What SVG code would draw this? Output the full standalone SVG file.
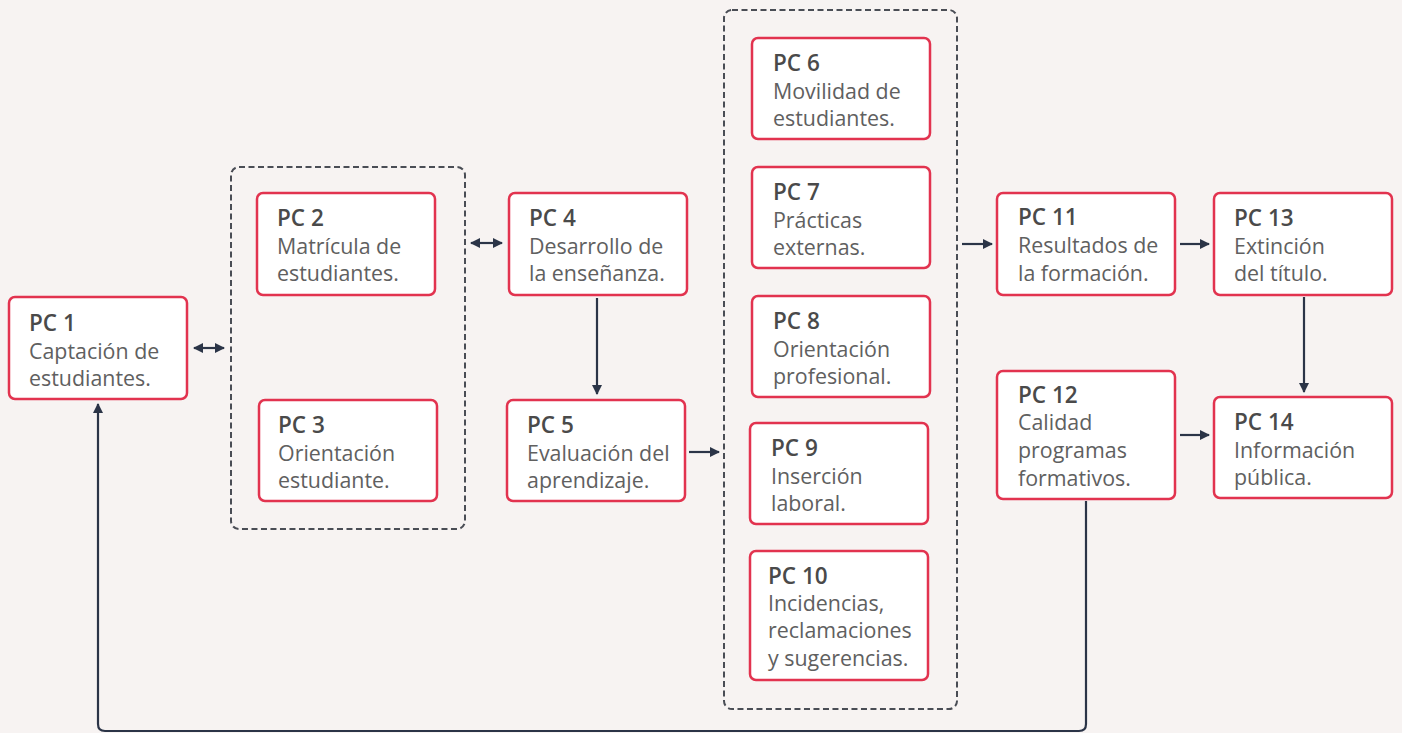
<svg xmlns="http://www.w3.org/2000/svg" width="1402" height="733" viewBox="0 0 1402 733">
<defs>
<marker id="ah" viewBox="0 0 10 10" refX="9" refY="5" markerWidth="4.6" markerHeight="4.6" orient="auto-start-reverse" markerUnits="strokeWidth"><path d="M0,0 L10,5 L0,10 z" fill="#2b3447"/></marker>
<style>
.box{fill:#fff;stroke:#e2334f;stroke-width:2.5}
.grp{fill:none;stroke:#4a4d55;stroke-width:2;stroke-dasharray:6 3.5}
.t{font-family:"Open Sans","Liberation Sans",sans-serif;font-size:22.5px;font-weight:600;fill:#4a4a4a}
.b{font-family:"Open Sans","Liberation Sans",sans-serif;font-size:21.4px;font-weight:500;fill:#606060}
.c{fill:none;stroke:#2b3447;stroke-width:2.2}
</style>
</defs>
<rect width="1402" height="733" fill="#f7f3f2"/>
<g id="group-a"><rect class="grp" x="231" y="167" width="234" height="362" rx="8"/></g>
<g id="group-b"><rect class="grp" x="724" y="10" width="233" height="699" rx="8"/></g>
<g id="connectors">
<line class="c" x1="194" y1="348" x2="224" y2="348" marker-start="url(#ah)" marker-end="url(#ah)"/>
<line class="c" x1="471" y1="243" x2="502" y2="243" marker-start="url(#ah)" marker-end="url(#ah)"/>
<line class="c" x1="597" y1="298" x2="597" y2="394" marker-end="url(#ah)"/>
<line class="c" x1="689" y1="452" x2="719" y2="452" marker-end="url(#ah)"/>
<line class="c" x1="962" y1="244" x2="992" y2="244" marker-end="url(#ah)"/>
<line class="c" x1="1180" y1="244" x2="1209" y2="244" marker-end="url(#ah)"/>
<line class="c" x1="1304" y1="297" x2="1304" y2="392" marker-end="url(#ah)"/>
<line class="c" x1="1180" y1="435" x2="1209" y2="435" marker-end="url(#ah)"/>
<path class="c" d="M1086,501 V724 Q1086,731 1079,731 H105 Q98,731 98,724 V404" marker-end="url(#ah)"/>
</g>
<g id="pc1"><rect class="box" x="9" y="297" width="178" height="102" rx="6"/><text class="t" x="29" y="331">PC 1</text><text class="b" x="29" y="359">Captación de</text><text class="b" x="29" y="386">estudiantes.</text></g>
<g id="pc2"><rect class="box" x="257" y="193" width="178" height="102" rx="6"/><text class="t" x="277" y="226">PC 2</text><text class="b" x="277" y="254">Matrícula de</text><text class="b" x="277" y="281">estudiantes.</text></g>
<g id="pc3"><rect class="box" x="259" y="400" width="178" height="101" rx="6"/><text class="t" x="278" y="433">PC 3</text><text class="b" x="278" y="461">Orientación</text><text class="b" x="278" y="488">estudiante.</text></g>
<g id="pc4"><rect class="box" x="509" y="193" width="178" height="102" rx="6"/><text class="t" x="529" y="226">PC 4</text><text class="b" x="529" y="254">Desarrollo de</text><text class="b" x="529" y="281">la enseñanza.</text></g>
<g id="pc5"><rect class="box" x="507" y="400" width="178" height="101" rx="6"/><text class="t" x="527" y="433">PC 5</text><text class="b" x="527" y="461">Evaluación del</text><text class="b" x="527" y="488">aprendizaje.</text></g>
<g id="pc6"><rect class="box" x="752" y="38" width="178" height="101" rx="6"/><text class="t" x="773" y="71">PC 6</text><text class="b" x="773" y="99">Movilidad de</text><text class="b" x="773" y="126">estudiantes.</text></g>
<g id="pc7"><rect class="box" x="752" y="167" width="178" height="101" rx="6"/><text class="t" x="773" y="200">PC 7</text><text class="b" x="773" y="228">Prácticas</text><text class="b" x="773" y="255">externas.</text></g>
<g id="pc8"><rect class="box" x="752" y="296" width="178" height="101" rx="6"/><text class="t" x="773" y="329">PC 8</text><text class="b" x="773" y="357">Orientación</text><text class="b" x="773" y="384">profesional.</text></g>
<g id="pc9"><rect class="box" x="750" y="423" width="178" height="101" rx="6"/><text class="t" x="771" y="456">PC 9</text><text class="b" x="771" y="484">Inserción</text><text class="b" x="771" y="511">laboral.</text></g>
<g id="pc10"><rect class="box" x="750" y="551" width="178" height="129" rx="6"/><text class="t" x="768" y="584">PC 10</text><text class="b" x="768" y="611">Incidencias,</text><text class="b" x="768" y="638">reclamaciones</text><text class="b" x="768" y="666">y sugerencias.</text></g>
<g id="pc11"><rect class="box" x="997" y="193" width="178" height="102" rx="6"/><text class="t" x="1018" y="225">PC 11</text><text class="b" x="1018" y="253">Resultados de</text><text class="b" x="1018" y="281">la formación.</text></g>
<g id="pc12"><rect class="box" x="997" y="371" width="178" height="128" rx="6"/><text class="t" x="1018" y="403">PC 12</text><text class="b" x="1018" y="430">Calidad</text><text class="b" x="1018" y="458">programas</text><text class="b" x="1018" y="486">formativos.</text></g>
<g id="pc13"><rect class="box" x="1214" y="193" width="178" height="102" rx="6"/><text class="t" x="1234" y="226">PC 13</text><text class="b" x="1234" y="254">Extinción</text><text class="b" x="1234" y="281">del título.</text></g>
<g id="pc14"><rect class="box" x="1214" y="397" width="178" height="101" rx="6"/><text class="t" x="1234" y="430">PC 14</text><text class="b" x="1234" y="458">Información</text><text class="b" x="1234" y="485">pública.</text></g>
</svg>
